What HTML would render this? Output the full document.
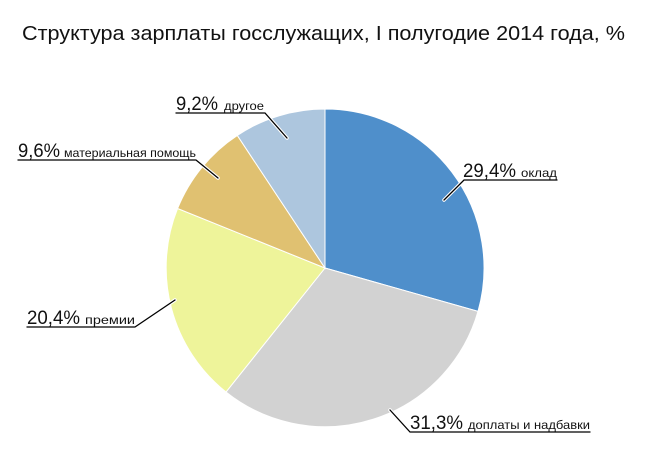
<!DOCTYPE html>
<html><head><meta charset="utf-8"><style>html,body{margin:0;padding:0;background:#fff}svg{display:block}</style></head>
<body>
<svg width="650" height="463" viewBox="0 0 650 463" xmlns="http://www.w3.org/2000/svg" font-family="'Liberation Sans','DejaVu Sans',sans-serif">
<rect width="650" height="463" fill="#fff"/>
<text x="22" y="40" font-size="20" fill="#111" textLength="603" lengthAdjust="spacingAndGlyphs">Структура зарплаты госслужащих, I полугодие 2014 года, %</text>
<g stroke="#fff" stroke-width="1">
<path d="M325,268 L325,109 A159,159 0 0 1 478,311.4 Z" fill="#4f8fcb"/>
<path d="M325,268 L478,311.4 A159,159 0 0 1 226,392 Z" fill="#d2d2d2"/>
<path d="M325,268 L226,392 A159,159 0 0 1 177.6,208.5 Z" fill="#eef49a"/>
<path d="M325,268 L177.6,208.5 A159,159 0 0 1 237.3,135.4 Z" fill="#e0c171"/>
<path d="M325,268 L237.3,135.4 A159,159 0 0 1 325,109 Z" fill="#adc6de"/>
</g>
<g fill="none" stroke-linecap="round">
<g stroke="#fff" stroke-width="3.5">
<path d="M444,200 L464,180"/><path d="M287,138 L265,113"/><path d="M218,178 L196,160"/><path d="M175,300 L135,327"/><path d="M390,410 L410,432"/>
</g>
<g stroke="#000" stroke-width="1.3">
<path d="M444,200 L464,180 L557,180"/><path d="M287,138 L265,113 L176,113"/><path d="M218,178 L196,160 L18,160"/><path d="M175,300 L135,327 L27,327"/><path d="M390,410 L410,432 L590,432"/>
</g>
</g>
<g fill="#111">
<text x="463" y="177" font-size="19" textLength="53" lengthAdjust="spacingAndGlyphs">29,4%</text>
<text x="521" y="177" font-size="12" textLength="36" lengthAdjust="spacingAndGlyphs">оклад</text>
<text x="176" y="110" font-size="19" textLength="42" lengthAdjust="spacingAndGlyphs">9,2%</text>
<text x="224" y="110" font-size="12" textLength="40" lengthAdjust="spacingAndGlyphs">другое</text>
<text x="18" y="157" font-size="19" textLength="42" lengthAdjust="spacingAndGlyphs">9,6%</text>
<text x="64" y="157" font-size="12" textLength="132" lengthAdjust="spacingAndGlyphs">материальная помощь</text>
<text x="27" y="324" font-size="19" textLength="53" lengthAdjust="spacingAndGlyphs">20,4%</text>
<text x="85" y="324" font-size="12" textLength="50" lengthAdjust="spacingAndGlyphs">премии</text>
<text x="410" y="429" font-size="19" textLength="53" lengthAdjust="spacingAndGlyphs">31,3%</text>
<text x="468" y="429" font-size="12" textLength="122" lengthAdjust="spacingAndGlyphs">доплаты и надбавки</text>
</g>
</svg>
</body></html>
